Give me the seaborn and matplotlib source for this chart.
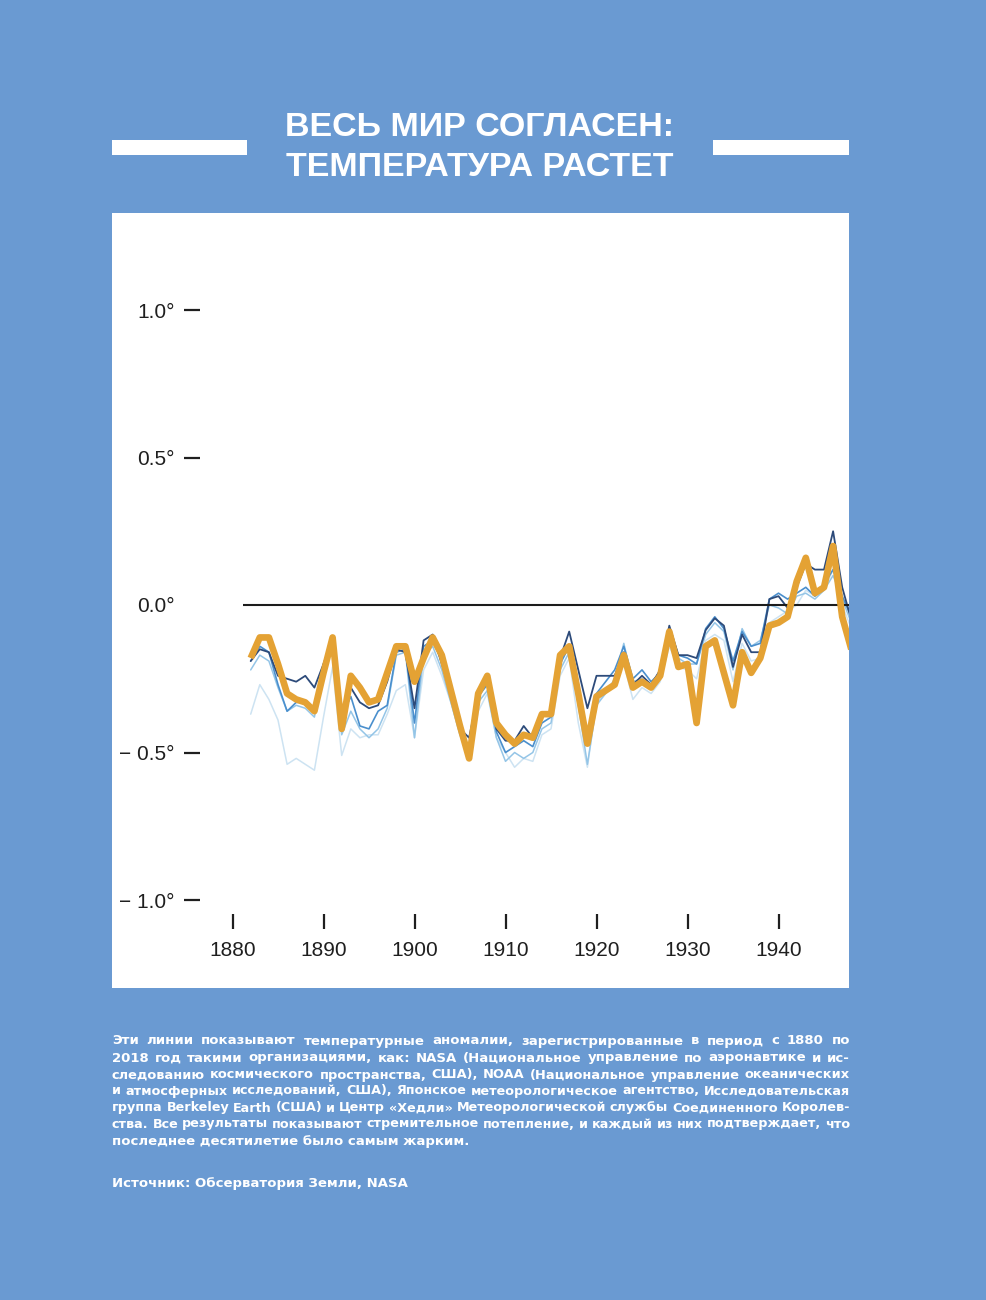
import numpy as np
import pandas as pd
import matplotlib
matplotlib.use("Agg")
import matplotlib.pyplot as plt
from matplotlib.patches import Rectangle
import seaborn as sns

# ---------------- data ----------------
years = list(range(1882, 1949))

orange = [-0.18, -0.11, -0.11, -0.20, -0.30, -0.32, -0.33, -0.36, -0.23, -0.11,
          -0.42, -0.24, -0.28, -0.33, -0.32, -0.23, -0.14, -0.14, -0.26, -0.18,
          -0.11, -0.17, -0.29, -0.41, -0.52, -0.30, -0.24, -0.40, -0.44, -0.47,
          -0.44, -0.45, -0.37, -0.37, -0.17, -0.14, -0.30, -0.47, -0.31, -0.29,
          -0.27, -0.17, -0.28, -0.26, -0.28, -0.24, -0.09, -0.21, -0.20, -0.40,
          -0.14, -0.12, -0.23, -0.34, -0.16, -0.23, -0.18, -0.07, -0.06, -0.04,
          0.08, 0.16, 0.04, 0.06, 0.20, -0.04, -0.15]

navy = [-0.19, -0.15, -0.16, -0.24, -0.25, -0.26, -0.24, -0.28, -0.20, -0.11,
        -0.41, -0.28, -0.33, -0.35, -0.34, -0.26, -0.15, -0.16, -0.35, -0.12,
        -0.10, -0.20, -0.30, -0.42, -0.45, -0.30, -0.26, -0.42, -0.46, -0.46,
        -0.41, -0.45, -0.38, -0.36, -0.18, -0.09, -0.22, -0.35, -0.24, -0.24,
        -0.24, -0.16, -0.27, -0.24, -0.27, -0.22, -0.07, -0.17, -0.17, -0.18,
        -0.085, -0.045, -0.07, -0.21, -0.10, -0.16, -0.16, 0.02, 0.03, -0.01,
        0.06, 0.14, 0.12, 0.12, 0.25, 0.06, -0.05]

medium = [-0.19, -0.14, -0.16, -0.27, -0.36, -0.33, -0.33, -0.36, -0.20, -0.12,
          -0.38, -0.31, -0.41, -0.42, -0.36, -0.34, -0.16, -0.15, -0.40, -0.14,
          -0.12, -0.19, -0.31, -0.43, -0.49, -0.31, -0.27, -0.43, -0.50, -0.48,
          -0.46, -0.48, -0.40, -0.38, -0.20, -0.14, -0.28, -0.45, -0.30, -0.26,
          -0.22, -0.14, -0.25, -0.22, -0.26, -0.23, -0.08, -0.17, -0.18, -0.20,
          -0.08, -0.04, -0.08, -0.19, -0.09, -0.14, -0.13, 0.02, 0.04, 0.02,
          0.04, 0.06, 0.03, 0.07, 0.12, 0.03, -0.04]

light = [-0.22, -0.17, -0.19, -0.28, -0.36, -0.34, -0.35, -0.38, -0.22, -0.14,
         -0.44, -0.36, -0.42, -0.45, -0.42, -0.35, -0.17, -0.16, -0.45, -0.17,
         -0.14, -0.22, -0.33, -0.44, -0.52, -0.33, -0.29, -0.45, -0.53, -0.50,
         -0.52, -0.50, -0.42, -0.40, -0.22, -0.16, -0.34, -0.54, -0.34, -0.30,
         -0.25, -0.13, -0.26, -0.25, -0.28, -0.24, -0.10, -0.18, -0.20, -0.20,
         -0.10, -0.06, -0.09, -0.22, -0.08, -0.14, -0.12, 0.00, -0.01, -0.03,
         0.03, 0.04, 0.02, 0.05, 0.10, 0.02, -0.06]

vlight = [-0.37, -0.27, -0.32, -0.39, -0.54, -0.52, -0.54, -0.56, -0.38, -0.21,
          -0.51, -0.42, -0.45, -0.44, -0.44, -0.37, -0.29, -0.27, -0.45, -0.22,
          -0.16, -0.24, -0.33, -0.44, -0.52, -0.36, -0.30, -0.45, -0.50, -0.55,
          -0.52, -0.53, -0.44, -0.42, -0.24, -0.18, -0.40, -0.55, -0.33, -0.30,
          -0.27, -0.20, -0.32, -0.28, -0.30, -0.26, -0.14, -0.21, -0.22, -0.25,
          -0.12, -0.10, -0.12, -0.26, -0.13, -0.19, -0.18, -0.06, -0.04, -0.02,
          0.00, 0.05, 0.03, 0.05, 0.12, 0.00, -0.08]

series_names = ["vlight", "light", "medium", "navy", "orange"]

y_ticks = [-1.0, -0.5, 0.0, 0.5, 1.0]
y_ticklabels = ["\u2212 1.0°", "\u2212 0.5°", "0.0°", "0.5°", "1.0°"]
x_ticks = [1880, 1890, 1900, 1910, 1920, 1930, 1940]
x_ticklabels = [str(v) for v in x_ticks]

title_lines = ["ВЕСЬ МИР СОГЛАСЕН:", "ТЕМПЕРАТУРА РАСТЕТ"]
caption_lines = [
    "Эти линии показывают температурные аномалии, зарегистрированные в период с 1880 по",
    "2018 год такими организациями, как: NASA (Национальное управление по аэронавтике и ис-",
    "следованию космического пространства, США), NOAA (Национальное управление океанических",
    "и атмосферных исследований, США), Японское метеорологическое агентство, Исследовательская",
    "группа Berkeley Earth (США) и Центр «Хедли» Метеорологической службы Соединенного Королев-",
    "ства. Все результаты показывают стремительное потепление, и каждый из них подтверждает, что",
    "последнее десятилетие было самым жарким.",
]
source_line = "Источник: Обсерватория Земли, NASA"

# ---------------- styling ----------------
sns.set_style("white")
plt.rcParams["font.family"] = ["Liberation Sans", "DejaVu Sans"]

BG = "#6a9ad2"
W, H = 987, 1300
fig = plt.figure(figsize=(W / 100, H / 100), dpi=100)
fig.patch.set_facecolor(BG)


def fx(px):
    return px / W


def fy(py):
    return 1 - py / H


# white panel
fig.patches.append(Rectangle((fx(112), fy(988)), fx(849) - fx(112), (988 - 213) / H,
                             transform=fig.transFigure, facecolor="white",
                             edgecolor="none", zorder=-5))
# title bars
for x0, x1 in [(112, 247), (713, 849)]:
    fig.patches.append(Rectangle((fx(x0), fy(155)), (x1 - x0) / W, 15 / H,
                                 transform=fig.transFigure, facecolor="white",
                                 edgecolor="none", zorder=-5))

# axes geometry: 9.1 px per year, 295 px per degree, zero at y=605
px_year = 9.1
px_deg = 295.0
ax_left, ax_right, ax_top, ax_bot = 200, 849, 213, 914
ax = fig.add_axes([fx(ax_left), fy(ax_bot), (ax_right - ax_left) / W, (ax_bot - ax_top) / H])
ax.set_zorder(2)
ax.set_facecolor("none")
ax.patch.set_alpha(0)
x0_year = 1882 - (250.7 - ax_left) / px_year
x1_year = 1882 + (ax_right - 250.7) / px_year
ax.set_xlim(x0_year, x1_year)
ax.set_ylim(-(ax_bot - 605) / px_deg, (605 - ax_top) / px_deg)

df = pd.DataFrame({
    "year": years * 5,
    "value": vlight + light + medium + navy + orange,
    "series": sum([[n] * len(years) for n in series_names], []),
})
palette = {"vlight": "#cde3f2", "light": "#94c5e7", "medium": "#4a8fcd",
           "navy": "#2d4b7a", "orange": "#e4a234"}
sizes = {"vlight": 1.1, "light": 1.1, "medium": 1.2, "navy": 1.3, "orange": 4.8}

ax.hlines(0, 1881.15, x1_year + 1, colors="#1c1c1c", lw=1.5, zorder=2.5)
sns.lineplot(data=df, x="year", y="value", hue="series", hue_order=series_names,
             palette=palette, size="series", size_order=series_names, sizes=sizes,
             estimator=None, legend=False, ax=ax)
for ln in ax.lines:
    if matplotlib.colors.to_hex(ln.get_color()) == palette["orange"]:
        ln.set_zorder(3)
        ln.set_solid_joinstyle("round")
        ln.set_solid_capstyle("butt")

for s in ax.spines.values():
    s.set_visible(False)
ax.grid(False)
ax.set_xlabel("")
ax.set_ylabel("")

ax.set_yticks(y_ticks)
ax.set_yticklabels(y_ticklabels)
ax.set_xticks(x_ticks)
ax.set_xticklabels(x_ticklabels)
ax.tick_params(axis="y", direction="out", length=11.5, width=1.6, pad=6.5,
               labelsize=15, colors="#1f1f1f", left=True)
ax.tick_params(axis="x", direction="out", length=10.8, width=1.6, pad=9,
               labelsize=15, colors="#1f1f1f", bottom=True)
ax.yaxis.get_major_ticks()[2].tick1line.set_visible(False)

# title
for txt, yc in zip(title_lines, [128, 167]):
    fig.text(fx(480), fy(yc), txt, ha="center", va="center", color="white",
             fontsize=24.5, fontweight="bold", family=["Liberation Sans", "DejaVu Sans"])

# caption (justified)
cap_size = 9.5
cap_font = dict(fontweight="bold", color="white", family=["DejaVu Sans"])
fig.canvas.draw()
renderer = fig.canvas.get_renderer()
left_px, right_px = 112, 850
line_y = [1041, 1058, 1075, 1091, 1108, 1124, 1141]
for i, (line, yc) in enumerate(zip(caption_lines, line_y)):
    if i == len(caption_lines) - 1:
        fig.text(fx(left_px), fy(yc), line, ha="left", va="center",
                 fontsize=cap_size, **cap_font)
        continue
    words = line.split(" ")
    size = cap_size
    for _ in range(6):
        objs = [fig.text(0, fy(yc), w, ha="left", va="center", fontsize=size, **cap_font)
                for w in words]
        widths = [o.get_window_extent(renderer=renderer).width for o in objs]
        gap = (right_px - left_px - sum(widths)) / (len(words) - 1)
        if gap >= 3.5:
            break
        for o in objs:
            o.remove()
        size *= 0.985
    x = left_px
    for o, wdt in zip(objs, widths):
        o.set_x(fx(x))
        x += wdt + gap

fig.text(fx(left_px), fy(1183), source_line, ha="left", va="center",
         fontsize=cap_size, **cap_font)

fig.savefig("out.png", dpi=100, facecolor=BG)
